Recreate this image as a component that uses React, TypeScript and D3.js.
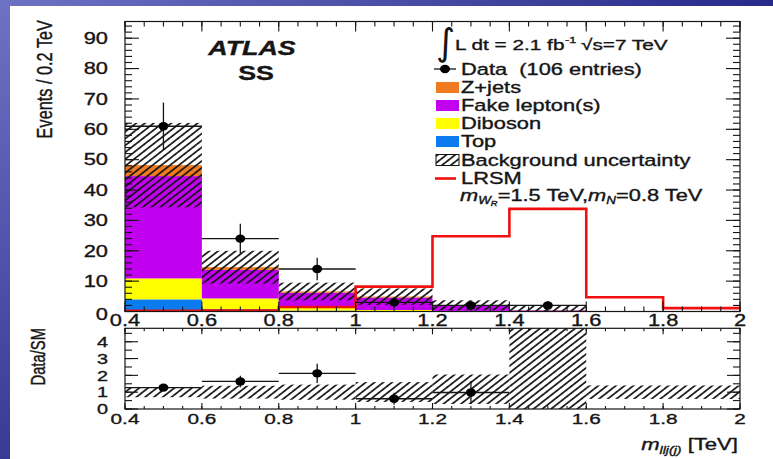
import React from 'react';
import * as d3 from 'd3';

// bins in TeV
const binEdges = [0.4, 0.6, 0.8, 1.0, 1.2, 1.4, 1.6, 1.8, 2.0];

// stacked backgrounds (events / 0.2 TeV), bottom to top
const topBkg = [4.0, 0.8, 0.3, 0.1, 0.0, 0.0, 0.0, 0.0];
const dibosonBkg = [6.9, 3.5, 0.9, 0.4, 0.2, 0.1, 0.02, 0.01];
const fakeBkg = [33.7, 9.4, 5.0, 4.1, 1.75, 0.25, 0.03, 0.02];
const zjetsBkg = [3.6, 0.9, 0.4, 0.3, 0.1, 0.05, 0.0, 0.0];
const bkgUnc = [13.9, 5.4, 2.9, 2.7, 1.65, 1.7, 0.02, 0.02];

// signal LRSM mWR=1.5, mN=0.8
const lrsm = [0.2, 0.3, 1.5, 8.2, 24.8, 33.8, 4.7, 1.1];

// data
const dataX = [0.5, 0.7, 0.9, 1.1, 1.3, 1.5];
const dataY = [61, 24, 14, 3, 2, 2];
const dataErr = [7.8, 4.9, 3.7, 1.7, 1.4, 1.4];

// Data/SM panel
const ratioX = [0.5, 0.7, 0.9, 1.1, 1.3];
const ratioVal = [1.27, 1.64, 2.12, 0.61, 0.98];
const ratioErr = [0.16, 0.34, 0.57, 0.35, 0.69];
const ratioBandLo = [0.7, 0.62, 0.55, 0.42, 0.3, 0.0, 0.6, 0.6];
const ratioBandHi = [1.3, 1.38, 1.45, 1.6, 2.05, 5.0, 1.4, 1.4];

const xTickLabels = ['0.4', '0.6', '0.8', '1', '1.2', '1.4', '1.6', '1.8', '2'];
const yTickLabels = ['0', '10', '20', '30', '40', '50', '60', '70', '80', '90'];
const ratioTickLabels = ['0', '1', '2', '3', '4'];

const stackKeys = ['top', 'diboson', 'fake', 'zjets'];
const stackColors: Record<string, string> = {
  top: '#0a7cf0',
  diboson: '#ffff00',
  fake: '#c200f0',
  zjets: '#ef7a1f',
};

const W = 773;
const H = 459;
const SX = 1.34; // the picture is stretched sideways
const FONT = '"Liberation Sans", Arial, Helvetica, sans-serif';
const INK = '#151515';
const M = { left: 125, right: 740, top: 21.5, bottom: 311.5 };
const R = { top: 328.3, bottom: 409 };
const HP = 5.4; // hatch spacing

const T = ({ x, y, size = 16.3, anchor = 'start', weight = 'normal', italic = false, children }: any) => (
  <text
    transform={`translate(${x},${y}) scale(${SX},1)`}
    fontFamily={FONT}
    fontSize={size}
    fontWeight={weight}
    fontStyle={italic ? 'italic' : 'normal'}
    textAnchor={anchor}
    fill={INK}
    stroke={INK}
    strokeWidth={0.35}
    style={{ whiteSpace: 'pre' }}
  >
    {children}
  </text>
);

export default function App() {
  const x = d3.scaleLinear().domain([0.4, 2]).range([M.left, M.right]);
  const y = d3.scaleLinear().domain([0, 95.5]).range([M.bottom, M.top]);
  const yr = d3.scaleLinear().domain([0, 4.8]).range([R.bottom, R.top]);

  const rows = binEdges.slice(0, -1).map((lo, i) => ({
    lo,
    hi: binEdges[i + 1],
    top: topBkg[i],
    diboson: dibosonBkg[i],
    fake: fakeBkg[i],
    zjets: zjetsBkg[i],
  }));
  const series = d3.stack<any>().keys(stackKeys)(rows);
  const totals = rows.map((r: any) => stackKeys.reduce((s, k) => s + r[k], 0));

  const lrsmPts: [number, number][] = binEdges.map((e, i) => [e, lrsm[Math.min(i, lrsm.length - 1)]]);
  const lrsmPath = d3
    .line<[number, number]>()
    .x((d) => x(d[0]))
    .y((d) => y(d[1]))
    .curve(d3.curveStepAfter)(lrsmPts);

  const xMajor = d3.range(0.4, 2.0001, 0.2);
  const xMinor = d3.range(0.4, 2.0001, 0.05);
  const yMajor = d3.range(0, 91, 10);
  const yMinor = d3.range(0, 95.5, 2);
  const rMajor = d3.range(0, 4.01, 1);
  const rMinor = d3.range(0, 4.81, 0.5);

  const tickLines = (
    xs: number[],
    ys: number[],
    yScale: any,
    top: number,
    bottom: number,
    xLen: number,
    yLen: number
  ) => (
    <g stroke={INK} strokeWidth={1.1}>
      {xs.map((v, i) => (
        <g key={'x' + i}>
          <line x1={x(v)} x2={x(v)} y1={bottom} y2={bottom - xLen} />
          <line x1={x(v)} x2={x(v)} y1={top} y2={top + xLen} />
        </g>
      ))}
      {ys.map((v, i) => (
        <g key={'y' + i}>
          <line x1={M.left} x2={M.left + yLen} y1={yScale(v)} y2={yScale(v)} />
          <line x1={M.right} x2={M.right - yLen} y1={yScale(v)} y2={yScale(v)} />
        </g>
      ))}
    </g>
  );

  const legendRows = [
    { key: 'zjets', label: 'Z+jets', cy: 87.5 },
    { key: 'fake', label: 'Fake lepton(s)', cy: 105.5 },
    { key: 'diboson', label: 'Diboson', cy: 123.5 },
    { key: 'top', label: 'Top', cy: 141.5 },
  ];

  return (
    <>
      <style>{'body{margin:0}'}</style>
      <svg width={W} height={H} style={{ display: 'block' }}>
        <defs>
          <linearGradient id="topBand" x1="0" x2="1" y1="0" y2="0">
            <stop offset="0" stopColor="#6d72c4" />
            <stop offset="1" stopColor="#272a88" />
          </linearGradient>
          <linearGradient id="leftBand" x1="0" x2="0" y1="0" y2="1">
            <stop offset="0" stopColor="#6d72c4" />
            <stop offset="1" stopColor="#383a94" />
          </linearGradient>
          <pattern id="hatch" patternUnits="userSpaceOnUse" width={HP} height={HP} patternTransform="rotate(52)">
            <line x1={HP / 2} y1={0} x2={HP / 2} y2={HP} stroke={INK} strokeWidth={1.7} />
          </pattern>
          <clipPath id="mainClip">
            <rect x={M.left} y={M.top} width={M.right - M.left} height={M.bottom - M.top} />
          </clipPath>
          <clipPath id="ratioClip">
            <rect x={M.left} y={R.top} width={M.right - M.left} height={R.bottom - R.top} />
          </clipPath>
        </defs>

        <rect x={0} y={0} width={W} height={H} fill="url(#topBand)" />
        <rect x={0} y={0} width={10} height={H} fill="url(#leftBand)" />
        <rect x={10} y={6} width={W - 10} height={H - 6} fill="#fff" />

        {/* main panel */}
        <g clipPath="url(#mainClip)">
          {series.map((s: any) => (
            <g key={s.key} fill={stackColors[s.key]}>
              {s.map((d: any, i: number) =>
                d[1] - d[0] > 0 ? (
                  <rect
                    key={i}
                    x={x(d.data.lo)}
                    width={x(d.data.hi) - x(d.data.lo)}
                    y={y(d[1])}
                    height={y(d[0]) - y(d[1])}
                  />
                ) : null
              )}
            </g>
          ))}
          {rows.map((r, i) => (
            <rect
              key={'h' + i}
              x={x(r.lo)}
              width={x(r.hi) - x(r.lo)}
              y={y(totals[i] + bkgUnc[i])}
              height={y(Math.max(0, totals[i] - bkgUnc[i])) - y(totals[i] + bkgUnc[i])}
              fill="url(#hatch)"
            />
          ))}
          <path d={lrsmPath || ''} fill="none" stroke="#f01010" strokeWidth={2.6} />
        </g>

        {dataX.map((v, i) => (
          <g key={'d' + i} stroke={INK} strokeWidth={1.3}>
            <line x1={x(v - 0.1)} x2={x(v + 0.1)} y1={y(dataY[i])} y2={y(dataY[i])} />
            <line x1={x(v)} x2={x(v)} y1={y(dataY[i] - dataErr[i])} y2={y(dataY[i] + dataErr[i])} />
            <ellipse cx={x(v)} cy={y(dataY[i])} rx={5} ry={4.2} fill="#000" stroke="none" />
          </g>
        ))}

        <rect x={M.left} y={M.top} width={M.right - M.left} height={M.bottom - M.top} fill="none" stroke={INK} strokeWidth={1.2} />
        {tickLines(xMinor, yMinor, y, M.top, M.bottom, 5, 7)}
        {tickLines(xMajor, yMajor, y, M.top, M.bottom, 10, 14)}

        {yMajor.map((v, i) => (
          <T key={'yl' + i} x={108} y={y(v) + 5.8 + (v === 0 ? 3 : 0)} anchor="end">
            {yTickLabels[i]}
          </T>
        ))}
        {xMajor.map((v, i) => (
          <T key={'xl' + i} x={x(v)} y={326} anchor="middle">
            {xTickLabels[i]}
          </T>
        ))}

        <text
          transform={`translate(52,20) rotate(-90) scale(1,${SX})`}
          fontFamily={FONT}
          fontSize={16.3}
          textAnchor="end"
          fill={INK}
          stroke={INK}
          strokeWidth={0.3}
        >
          Events / 0.2 TeV
        </text>

        <T x={252} y={55} size={20} weight="bold" italic anchor="middle">ATLAS</T>
        <T x={256} y={80} size={20} weight="bold" anchor="middle">SS</T>

        {/* legend */}
        <text x={436} y={55} fontFamily='"DejaVu Sans", sans-serif' fontSize={37} fill={INK}>∫</text>
        <T x={455} y={49.5} size={15.5}>L dt = 2.1 fb</T>
        <T x={565} y={43} size={9.5}>-1</T>
        <T x={581} y={49.5} size={15.5}>√s=7 TeV</T>

        <line x1={434} x2={456} y1={69} y2={69} stroke={INK} strokeWidth={1.3} />
        <ellipse cx={445} cy={69} rx={5} ry={4.2} fill="#000" />
        <T x={461} y={75}>{'Data  (106 entries)'}</T>

        {legendRows.map((r) => (
          <g key={r.key}>
            <rect x={436} y={r.cy - 5.5} width={23} height={11} fill={stackColors[r.key]} />
            <T x={461} y={r.cy + 5.8}>{r.label}</T>
          </g>
        ))}
        <rect x={436} y={154.5} width={23} height={11} fill="url(#hatch)" stroke={INK} strokeWidth={1} />
        <T x={461} y={165.8}>Background uncertainty</T>
        <line x1={435} x2={456} y1={178.5} y2={178.5} stroke="#f01010" strokeWidth={2.6} />
        <T x={461} y={184.3}>LRSM</T>
        <T x={460} y={201}>
          <tspan fontStyle="italic">m</tspan>
          <tspan fontSize={10} fontStyle="italic" dy={3}>W</tspan>
          <tspan fontSize={7} fontStyle="italic" dy={2}>R</tspan>
          <tspan dy={-5}>=1.5 TeV,</tspan>
          <tspan fontStyle="italic">m</tspan>
          <tspan fontSize={10} fontStyle="italic" dy={3}>N</tspan>
          <tspan dy={-3}>=0.8 TeV</tspan>
        </T>

        {/* ratio panel */}
        <g clipPath="url(#ratioClip)">
          {rows.map((r, i) => (
            <rect
              key={'rb' + i}
              x={x(r.lo)}
              width={x(r.hi) - x(r.lo)}
              y={yr(Math.min(4.9, ratioBandHi[i]))}
              height={yr(Math.max(0, ratioBandLo[i])) - yr(Math.min(4.9, ratioBandHi[i]))}
              fill="url(#hatch)"
            />
          ))}
        </g>
        {ratioX.map((v, i) => (
          <g key={'r' + i} stroke={INK} strokeWidth={1.3}>
            <line x1={x(v - 0.1)} x2={x(v + 0.1)} y1={yr(ratioVal[i])} y2={yr(ratioVal[i])} />
            <line x1={x(v)} x2={x(v)} y1={yr(ratioVal[i] - ratioErr[i])} y2={yr(ratioVal[i] + ratioErr[i])} />
            <ellipse cx={x(v)} cy={yr(ratioVal[i])} rx={5} ry={4.2} fill="#000" stroke="none" />
          </g>
        ))}
        <rect x={M.left} y={R.top} width={M.right - M.left} height={R.bottom - R.top} fill="none" stroke={INK} strokeWidth={1.2} />
        {tickLines(xMinor, rMinor, yr, R.top, R.bottom, 3, 7)}
        {tickLines(xMajor, rMajor, yr, R.top, R.bottom, 6, 13)}

        {rMajor.map((v, i) => (
          <T key={'rl' + i} x={108} y={yr(v) + 5.3} size={14.8} anchor="end">
            {ratioTickLabels[i]}
          </T>
        ))}
        {xMajor.map((v, i) => (
          <T key={'rxl' + i} x={x(v)} y={424} size={15.5} anchor="middle">
            {xTickLabels[i]}
          </T>
        ))}
        <text
          transform={`translate(45,328) rotate(-90) scale(1,${SX})`}
          fontFamily={FONT}
          fontSize={14.8}
          textAnchor="end"
          fill={INK}
          stroke={INK}
          strokeWidth={0.3}
        >
          Data/SM
        </text>

        <T x={738} y={450} size={16.5} anchor="end">
          <tspan fontStyle="italic">m</tspan>
          <tspan fontSize={10.5} fontStyle="italic" dy={4}>llj(j)</tspan>
          <tspan dy={-4}> [TeV]</tspan>
        </T>
      </svg>
    </>
  );
}
